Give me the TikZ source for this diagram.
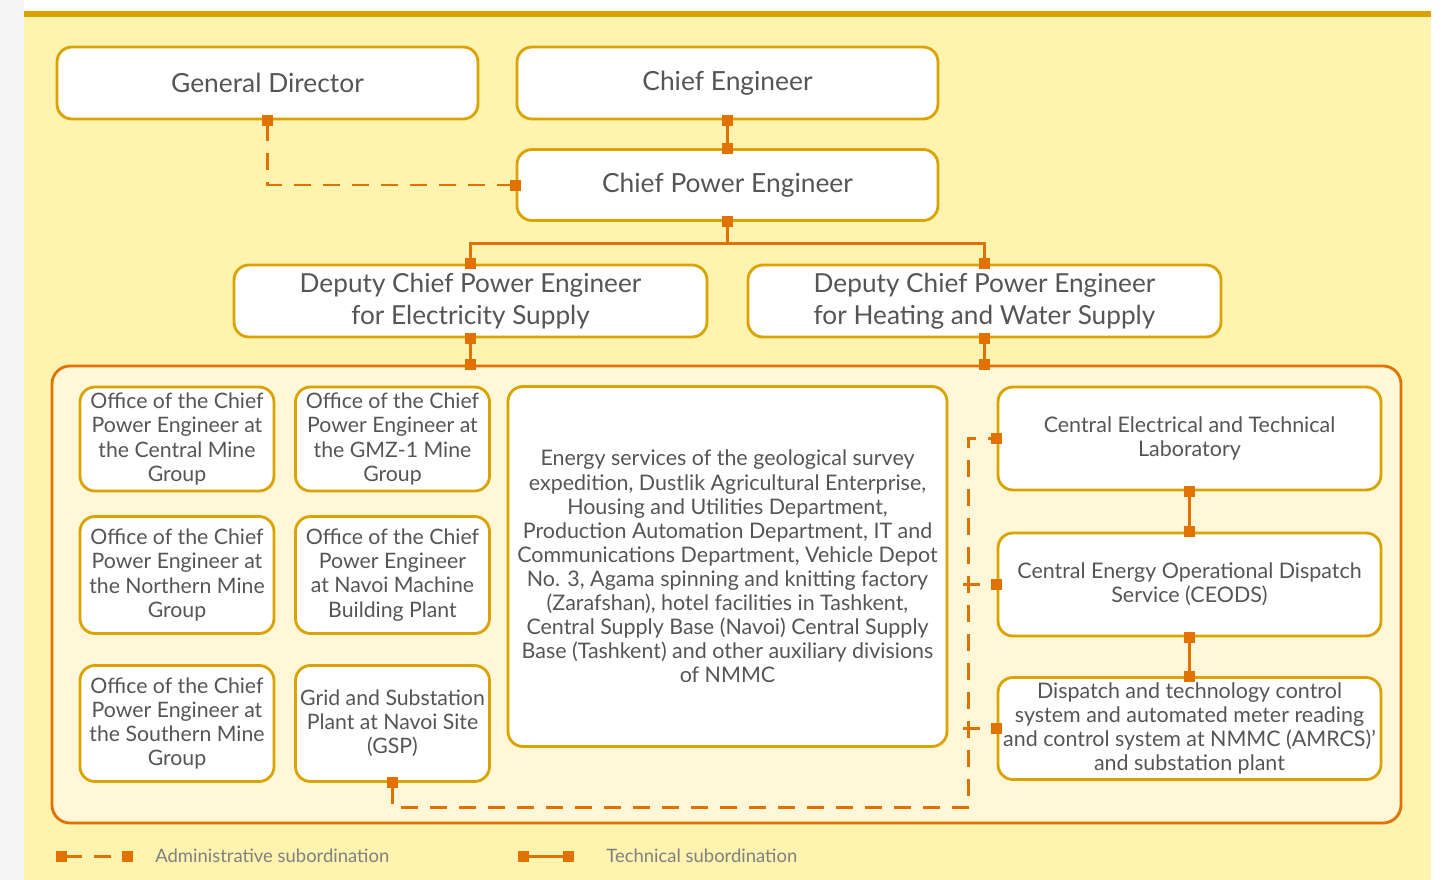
\documentclass[tikz,border=0pt]{standalone}
\usepackage{fontspec}
\setmainfont{Lato}
\usetikzlibrary{arrows.meta,positioning}

\definecolor{boxline}{RGB}{218,163,0}
\definecolor{linkline}{RGB}{226,114,0}
\definecolor{panel}{RGB}{255,243,176}
\definecolor{inner}{RGB}{255,247,216}
\definecolor{txt}{RGB}{85,85,85}

\tikzset{sq/.tip={Square[length=2.2mm,width=2.2mm]}}

\begin{document}
\begin{tikzpicture}[
 x=0.2mm, y=-0.2mm,
 unit/.style={rectangle, draw=boxline, line width=1.6pt, rounded corners=3mm, fill=white, text=txt, align=center, inner sep=0pt},
 head/.style={unit, minimum width=84.2mm, minimum height=14.4mm, font=\fontsize{15}{18.2}\selectfont},
 deputy/.style={unit, minimum width=94.6mm, minimum height=14.4mm, font=\fontsize{14.9}{18.2}\selectfont},
 office/.style={unit, minimum width=38.8mm, font=\fontsize{12.1}{13.7}\selectfont},
 service/.style={unit, minimum width=76.6mm, minimum height=20.6mm, font=\fontsize{12.2}{13.7}\selectfont},
 tech/.style={sq-sq, linkline, line width=1.7pt, shorten <=-1.1mm, shorten >=-1.1mm},
 admin/.style={tech, dash pattern=on 3.4mm off 2.4mm},
 legend/.style={font=\fontsize{10.5}{12}\selectfont, text=black!50, anchor=west, inner sep=0pt},
]
\useasboundingbox (0,0) rectangle (1449,880);
\fill[white] (0,0) rectangle (1449,880);
\fill[black!4] (0,0) rectangle (24,880);
\fill[panel] (24,14) rectangle (1431,880);
\fill[boxline] (24,11) rectangle (1431,17);

% management
\node[head] (gd) at (267.5,83) {General Director};
\node[head] (ce) at (727.5,83) {Chief Engineer};
\node[head, minimum height=14.2mm] (cpe) at (727.5,185) {Chief Power Engineer};
\node[deputy] (dep1) at (470.5,301) {Deputy Chief Power Engineer\\for Electricity Supply};
\node[deputy] (dep2) at (984.5,301) {Deputy Chief Power Engineer\\for Heating and Water Supply};

% divisions
\node[rectangle, draw=linkline, line width=1.6pt, fill=inner, rounded corners=3.6mm, minimum width=269.8mm, minimum height=91.4mm, inner sep=0pt] (grp) at (726.5,594.5) {};

\node[office, minimum height=20.8mm] (ocm) at (177,439) {Office of the Chief\\Power Engineer at\\the Central Mine\\Group};
\node[office, minimum height=20.8mm] (ogm) at (392.5,439) {Office of the Chief\\Power Engineer at\\the GMZ-1 Mine\\Group};
\node[office, minimum height=23.4mm] (onm) at (177,575) {Office of the Chief\\Power Engineer at\\the Northern Mine\\Group};
\node[office, minimum height=23.4mm] (onv) at (392.5,575) {Office of the Chief\\Power Engineer\\at Navoi Machine\\Building Plant};
\node[office, minimum height=23.2mm] (osm) at (177,723.5) {Office of the Chief\\Power Engineer at\\the Southern Mine\\Group};
\node[office, minimum height=23.2mm] (gsp) at (392.5,723.5) {Grid and Substation\\Plant at Navoi Site\\(GSP)};

\node[unit, minimum width=87.8mm, minimum height=72mm, font=\fontsize{12.2}{13.7}\selectfont] (aux) at (727.5,566.5) {Energy services of the geological survey\\expedition, Dustlik Agricultural Enterprise,\\Housing and Utilities Department,\\Production Automation Department, IT and\\Communications Department, Vehicle Depot\\No. 3, Agama spinning and knitting factory\\(Zarafshan), hotel facilities in Tashkent,\\Central Supply Base (Navoi) Central Supply\\Base (Tashkent) and other auxiliary divisions\\of NMMC};

\node[service] (cel) at (1189.5,438.5) {Central Electrical and Technical\\Laboratory};
\node[service] (ceods) at (1189.5,584.5) {Central Energy Operational Dispatch\\Service (CEODS)};
\node[service, minimum height=20.4mm] (disp) at (1189.5,728.5) {Dispatch and technology control\\system and automated meter reading\\and control system at NMMC (AMRCS)’\\and substation plant};

% technical links
\draw[tech] (ce.south) -- (cpe.north);
\draw[tech] (cpe.south) -- ++(0,22) -| (dep1.north);
\draw[tech, -sq] ([yshift=-4.4mm]cpe.south) -| (dep2.north);
\draw[tech] (dep1.south) -- (dep1.south |- grp.north);
\draw[tech] (dep2.south) -- (dep2.south |- grp.north);
\draw[tech] (cel.south) -- (ceods.north);
\draw[tech] (ceods.south) -- (disp.north);

% administrative links
\draw[admin] (gd.south) |- (cpe.west);
\draw[admin] (gsp.south) -- ++(0,25) -| ([xshift=-5.6mm]cel.west) -- (cel.west);
\draw[admin, -sq] ([xshift=-5.6mm]ceods.west) -- (ceods.west);
\draw[admin, -sq] ([xshift=-5.6mm]disp.west) -- (disp.west);

% legend
\coordinate (a1) at (61,856);
\coordinate (a2) at (127,856);
\draw[admin] (a1) -- (a2);
\node[legend] (atxt) at (155,856) {Administrative subordination};
\coordinate (t1) at (523,856);
\coordinate (t2) at (568,856);
\draw[tech] (t1) -- (t2);
\node[legend] (ttxt) at (606,856) {Technical subordination};

\end{tikzpicture}
\end{document}
